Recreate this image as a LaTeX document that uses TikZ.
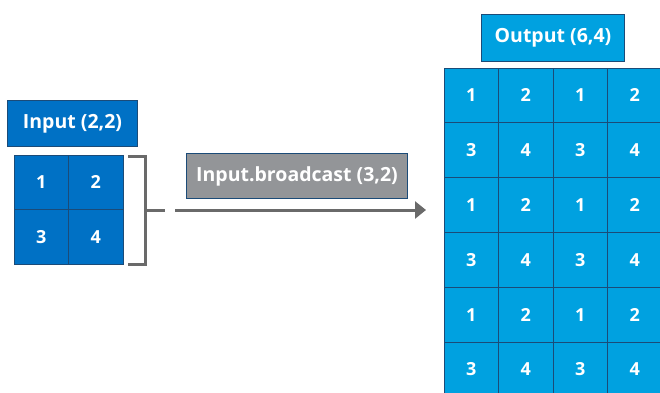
\documentclass[tikz,border=0pt]{standalone}
\usepackage{fontspec}
\setmainfont{Open Sans}
\usetikzlibrary{arrows.meta}
\definecolor{inblue}{HTML}{0071C5}
\definecolor{outblue}{HTML}{00A1E0}
\definecolor{edge}{HTML}{1B4B78}
\definecolor{boxgray}{HTML}{939598}
\definecolor{linegray}{HTML}{6A6A6A}
\tikzset{
  lbl/.style={draw=edge, line width=1pt, text=white, font=\fontsize{19.5}{22}\selectfont\bfseries, inner sep=0pt, anchor=north west},
  incell/.style={draw=edge, line width=0.9pt, fill=inblue, text=white, font=\fontsize{18}{20}\selectfont\bfseries, minimum width=54.5pt, minimum height=54.5pt, inner sep=0pt},
  outcell/.style={draw=edge, line width=0.9pt, fill=outblue, text=white, font=\fontsize{18}{20}\selectfont\bfseries, minimum width=54.5pt, minimum height=54.8pt, inner sep=0pt},
  conn/.style={draw=linegray, line width=3pt},
}
\begin{document}
\begin{tikzpicture}[x=1pt,y=-1pt]
\useasboundingbox (0,0) rectangle (660,392);
\clip (0,0) rectangle (660,392);
% Input label
\node[lbl, fill=inblue, minimum width=130pt, minimum height=46pt] (inlbl) at (7,100) {Input (2,2)};
% Input grid
\foreach \r/\c/\v in {0/0/1,0/1/2,1/0/3,1/1/4}{
  \node[incell] (in\r\c) at ({14+27.25+54.5*\c},{155+27.25+54.5*\r}) {\v};
}
% Gray operation label
\node[lbl, fill=boxgray, minimum width=221pt, minimum height=45pt] (oplbl) at (186,153) {Input.broadcast (3,2)};
% Output label
\node[lbl, fill=outblue, minimum width=143pt, minimum height=47pt] (outlbl) at (481,14) {Output (6,4)};
% Output grid
\foreach \r in {0,...,5}{
  \foreach \c in {0,...,3}{
    \pgfmathtruncatemacro{\val}{mod(\r,2)*2+mod(\c,2)+1}
    \node[outcell] (out\r\c) at ({444+27.25+54.5*\c},{68+27.4+54.8*\r}) {\val};
  }
}
% Bracket
\coordinate (bt) at (128,156);
\coordinate (bb) at (128,264);
\coordinate (bm) at (145,210);
\coordinate (bmend) at (165,210);
\draw[conn] (bt) -| (bm) |- (bb);
\draw[conn] (bm) -- (bmend);
% Arrow
\coordinate (astart) at (175,210);
\coordinate (aend) at (426,210);
\draw[conn, -{Triangle[length=11pt,width=17pt]}] (astart) -- (aend);
\end{tikzpicture}
\end{document}
